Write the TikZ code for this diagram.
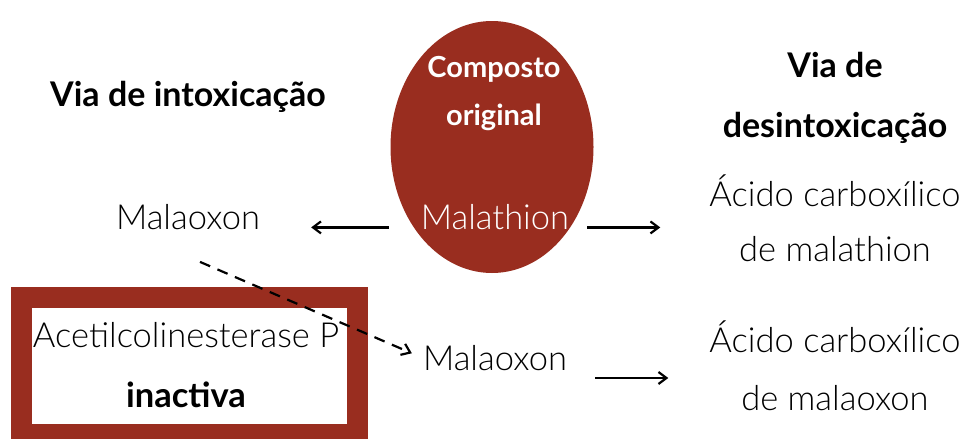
\documentclass[tikz,border=0pt]{standalone}
\usepackage{fontspec}
\setmainfont{Lato}[UprightFont=* Light, BoldFont=* Bold]
\usetikzlibrary{shapes.geometric, arrows.meta, positioning}
\definecolor{rust}{RGB}{153, 45, 31}

\begin{document}
\begin{tikzpicture}[x=1pt, y=-1pt]
    \tikzstyle{txt}  = [font=\fontsize{34.5}{57}\selectfont, align=center, inner sep=0pt]
    \tikzstyle{head} = [font=\fontsize{34}{60}\selectfont\bfseries, align=center, inner sep=0pt]
    \tikzstyle{arr}  = [-{Straight Barb[length=8pt, width=12pt]}, line width=2.2pt]

    \useasboundingbox (0,0) rectangle (967,439);
    \clip (0,0) rectangle (967,439);

    % original compound
    \node[ellipse, fill=rust, minimum width=203pt, minimum height=252pt, inner sep=0pt] (orig) at (492,147) {};
    \node[head, text=white, font=\fontsize{29}{48}\selectfont\bfseries] (comp) at (494,94) {Composto\\original};
    \node[txt, text=white] (mlt) at (495,217) {Malathion};

    % inactive enzyme
    \draw[rust, line width=21pt] (21.5,297.5) rectangle (357.5,434.5);
    \node[txt, font=\fontsize{34.5}{60}\selectfont] (ache) at (186,365) {Acetilcolinesterase P\\\textbf{inactiva}};

    \node[head] (intox) at (188,97) {Via de intoxicação};
    \node[head] (desintox) at (835,98) {Via de\\desintoxicação};

    \node[txt] (malL) at (188,217) {Malaoxon};
    \node[txt] (malM) at (495,358) {Malaoxon};
    \node[txt, font=\fontsize{34.5}{55}\selectfont] (acid1) at (835,218) {Ácido carboxílico\\de malathion};
    \node[txt, font=\fontsize{34.5}{58}\selectfont] (acid2) at (835,366) {Ácido carboxílico\\de malaoxon};

    \draw[arr, shorten <=32pt, shorten >=51pt] ([yshift=2pt]mlt.base west) -- ([yshift=2pt]malL.base east);
    \draw[arr, shorten <=18pt, shorten >=49pt] ([yshift=2pt]mlt.base east) -- ([yshift=2pt]mlt.base east -| acid1.west);
    \draw[arr, shorten <=28pt, shorten >=41pt] ([yshift=-20pt]malM.east) -- ([yshift=-20pt]malM.east -| acid2.west);
    \draw[arr, dashed, dash pattern=on 11pt off 8pt, shorten >=12pt] ([xshift=12pt, yshift=-32pt]malL.south) -- (malM.west);
\end{tikzpicture}
\end{document}
